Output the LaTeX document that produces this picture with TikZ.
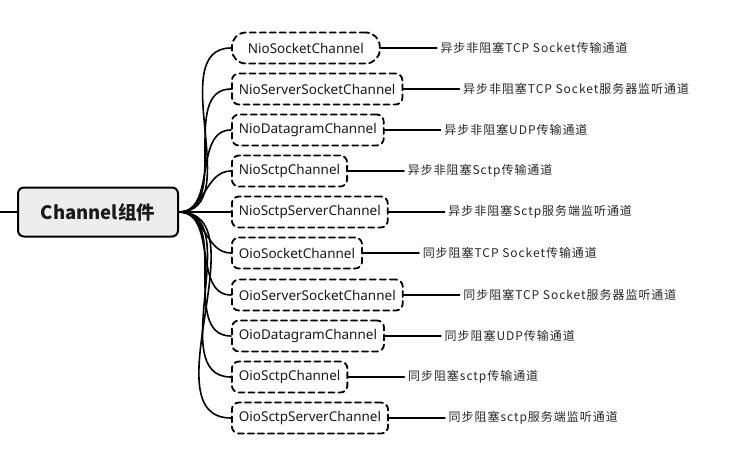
\documentclass[tikz,border=0pt]{standalone}
\usepackage{fontspec}
\setmainfont{Noto Sans}
\newfontfamily\cjk{Noto Sans CJK SC}
\newfontfamily\cjkwide[LetterSpace=8]{Noto Sans CJK SC}
\usetikzlibrary{positioning}

\begin{document}
\begin{tikzpicture}[x=1pt,y=-1pt
  ,line width=1.6pt
  ,node distance=56pt,
  line cap=round]
  \tikzstyle{every node}=[font=\fontsize{13.5}{15}\selectfont,text=black!90]
  \tikzstyle{root}=[draw,line width=2pt,rounded corners=6pt,fill=gray!14
    ,minimum width=160pt,minimum height=49pt
    ,font=\cjk\bfseries\fontsize{18.5}{22}\selectfont]
  \tikzstyle{chan}=[draw,line width=1.8pt,dash pattern=on 6pt off 4pt
    ,rounded corners=7pt,minimum height=31pt,inner xsep=7pt,anchor=west]
  \tikzstyle{desc}=[inner sep=3pt,text=black!85
    ,font=\cjkwide\fontsize{12}{14}\selectfont]

  \useasboundingbox (0,0) rectangle (741,467);

  \coordinate (in) at (0,212);
  \node[root](ch) at (98,212) {Channel组件};

  \node[chan,rounded corners=14pt,inner xsep=16pt](nsc) at (231,48) {NioSocketChannel};
  \node[chan](nssc) at (231,89)  {NioServerSocketChannel};
  \node[chan](ndc)  at (231,130) {NioDatagramChannel};
  \node[chan](nst)  at (231,171) {NioSctpChannel};
  \node[chan](nsst) at (231,212) {NioSctpServerChannel};
  \node[chan](osc)  at (231,253) {OioSocketChannel};
  \node[chan](ossc) at (231,295) {OioServerSocketChannel};
  \node[chan](odc)  at (231,336) {OioDatagramChannel};
  \node[chan](ost)  at (231,377) {OioSctpChannel};
  \node[chan](osst) at (231,418) {OioSctpServerChannel};

  \node[desc,right=of nsc]  (nscd)  {异步非阻塞TCP Socket传输通道};
  \node[desc,right=of nssc] (nsscd) {异步非阻塞TCP Socket服务器监听通道};
  \node[desc,right=of ndc]  (ndcd)  {异步非阻塞UDP传输通道};
  \node[desc,right=of nst]  (nstd)  {异步非阻塞Sctp传输通道};
  \node[desc,right=of nsst] (nsstd) {异步非阻塞Sctp服务端监听通道};
  \node[desc,right=of osc]  (oscd)  {同步阻塞TCP Socket传输通道};
  \node[desc,right=of ossc] (osscd) {同步阻塞TCP Socket服务器监听通道};
  \node[desc,right=of odc]  (odcd)  {同步阻塞UDP传输通道};
  \node[desc,right=of ost]  (ostd)  {同步阻塞sctp传输通道};
  \node[desc,right=of osst] (osstd) {同步阻塞sctp服务端监听通道};

  \path
  (in)       edge                 (ch)
  (ch.east)  edge [out=0,in=180]  (nsc.west)
  (ch.east)  edge [out=0,in=180]  (nssc.west)
  (ch.east)  edge [out=0,in=180]  (ndc.west)
  (ch.east)  edge [out=0,in=180]  (nst.west)
  (ch.east)  edge [out=0,in=180]  (nsst.west)
  (ch.east)  edge [out=0,in=180]  (osc.west)
  (ch.east)  edge [out=0,in=180]  (ossc.west)
  (ch.east)  edge [out=0,in=180]  (odc.west)
  (ch.east)  edge [out=0,in=180]  (ost.west)
  (ch.east)  edge [out=0,in=180]  (osst.west)
  ;
  \path
  (nsc)  edge (nscd)
  (nssc) edge (nsscd)
  (ndc)  edge (ndcd)
  (nst)  edge (nstd)
  (nsst) edge (nsstd)
  (osc)  edge (oscd)
  (ossc) edge (osscd)
  (odc)  edge (odcd)
  (ost)  edge (ostd)
  (osst) edge (osstd)
  ;

\end{tikzpicture}
\end{document}
